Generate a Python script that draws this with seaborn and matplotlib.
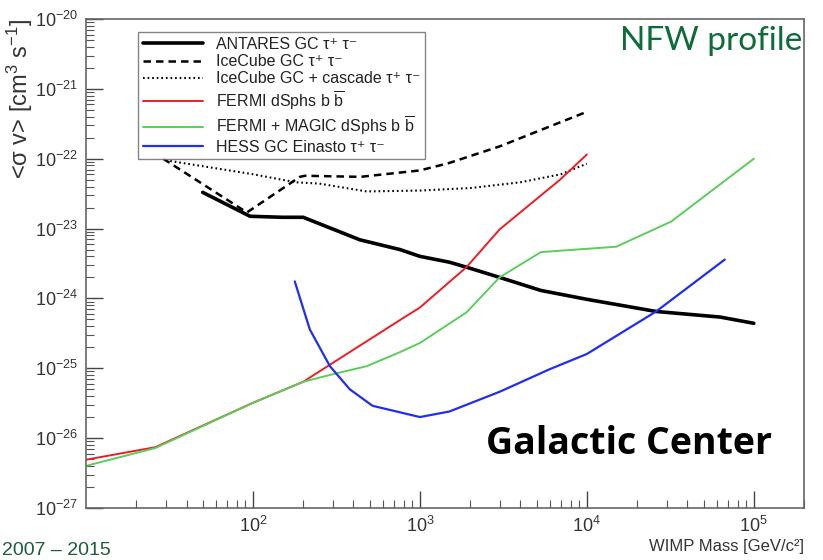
import numpy as np
import pandas as pd
import matplotlib
matplotlib.use('Agg')
import matplotlib.pyplot as plt
import seaborn as sns

# WIMP mass [GeV/c^2] and <sigma v> [cm^3 s^-1]
antares_m = [50, 96, 150, 200, 437, 760, 1000, 1500, 1900, 3000, 5300, 10000, 26000, 63000, 100000]
antares_sv = [3.3e-23, 1.5e-23, 1.45e-23, 1.45e-23, 6.9e-24, 5.0e-24, 4.0e-24, 3.3e-24, 2.8e-24, 2.0e-24, 1.3e-24, 9.7e-25, 6.5e-25, 5.4e-25, 4.4e-25]

icecube_m = [29, 92, 191, 205, 440, 1000, 1500, 3000, 6000, 10000]
icecube_sv = [1.0e-22, 1.7e-23, 5.5e-23, 5.7e-23, 5.5e-23, 6.8e-23, 8.7e-23, 1.5e-22, 2.9e-22, 4.7e-22]

cascade_m = [30, 100, 180, 250, 480, 1000, 2000, 4000, 7000, 10000]
cascade_sv = [9.5e-23, 6.0e-23, 4.6e-23, 4.4e-23, 3.4e-23, 3.5e-23, 3.8e-23, 4.6e-23, 6.0e-23, 8.5e-23]

fermi_m = [10, 26, 100, 200, 760, 1000, 1900, 3000, 6900, 10000]
fermi_sv = [4.9e-27, 7.4e-27, 3.2e-26, 6.4e-26, 4.9e-25, 7.4e-25, 2.8e-24, 9.7e-24, 5.0e-23, 1.15e-22]

magic_m = [10, 26, 100, 200, 300, 480, 760, 1000, 1900, 3000, 5300, 15000, 32000, 100000]
magic_sv = [4.0e-27, 7.2e-27, 3.2e-26, 6.4e-26, 8.2e-26, 1.07e-25, 1.7e-25, 2.3e-25, 6.3e-25, 2.0e-24, 4.6e-24, 5.5e-24, 1.26e-23, 1.0e-22]

hess_m = [178, 219, 289, 380, 520, 1000, 1500, 3000, 6000, 10000, 26000, 67000]
hess_sv = [1.75e-24, 3.6e-25, 1.07e-25, 5.0e-26, 2.9e-26, 2.0e-26, 2.4e-26, 4.6e-26, 9.7e-26, 1.6e-25, 6.5e-25, 3.6e-24]

labels = ['ANTARES GC τ⁺ τ⁻', 'IceCube GC τ⁺ τ⁻', 'IceCube GC + cascade τ⁺ τ⁻',
          'FERMI dSphs b $\\overline{\\mathrm{b}}$', 'FERMI + MAGIC dSphs b $\\overline{\\mathrm{b}}$',
          'HESS GC Einasto τ⁺ τ⁻']
colors = ['black', 'black', 'black', '#ee1c25', '#5ccc5c', '#1f2ef0']
styles = ['-', (0, (3, 2)), (0, (0.8, 1.4)), '-', '-', '-']
widths = [2.6, 1.8, 1.5, 1.4, 1.4, 1.6]

sns.set_style('white')
plt.rcParams['font.family'] = ['Liberation Sans', 'DejaVu Sans']
plt.rcParams['mathtext.fontset'] = 'custom'
plt.rcParams['mathtext.rm'] = 'Liberation Sans'
plt.rcParams['mathtext.it'] = 'Liberation Sans:italic'

fig = plt.figure(figsize=(8.23, 5.6), dpi=100)
ax = fig.add_axes([0.1045, 0.093, 0.8725, 0.873])

series = [(antares_m, antares_sv), (icecube_m, icecube_sv), (cascade_m, cascade_sv),
          (fermi_m, fermi_sv), (magic_m, magic_sv), (hess_m, hess_sv)]
for (m, sv), lab, c, ls, lw in zip(series, labels, colors, styles, widths):
    df = pd.DataFrame({'mass': m, 'sv': sv})
    sns.lineplot(data=df, x='mass', y='sv', ax=ax, color=c, linestyle=ls, linewidth=lw, label=lab)

ax.set_xscale('log')
ax.set_yscale('log')
ax.set_xlim(10, 2e5)
ax.set_ylim(1e-27, 1e-20)
ax.set_xticks([1e2, 1e3, 1e4, 1e5])
ax.set_yticks([10.0 ** k for k in range(-27, -19)])
ax.yaxis.set_minor_locator(matplotlib.ticker.LogLocator(base=10, subs=np.arange(2, 10), numticks=20))
ax.xaxis.set_minor_locator(matplotlib.ticker.LogLocator(base=10, subs=np.arange(2, 10), numticks=20))
ax.yaxis.set_minor_formatter(matplotlib.ticker.NullFormatter())
ax.xaxis.set_minor_formatter(matplotlib.ticker.NullFormatter())
ax.tick_params(which='major', direction='in', length=12, width=1, color='#444444',
               labelsize=13, labelcolor='#333333', left=True, bottom=True,
               top=False, right=False, pad=6)
ax.tick_params(which='minor', direction='in', length=6, width=0.8, color='#555555',
               left=True, bottom=True, top=False, right=False)
for sp in ax.spines.values():
    sp.set_color('#666666')
    sp.set_linewidth(1.2)

ax.set_ylabel('<σ v> [cm$^3$ s$^{-1}$]', fontsize=17, color='#333333', loc='top', labelpad=0)
ax.set_xlabel('WIMP Mass [GeV/c²]', fontsize=12, color='#333333', loc='right', labelpad=2)

leg = ax.legend(loc='upper left', bbox_to_anchor=(0.061, 0.99), fontsize=11.5, frameon=True,
                fancybox=False, edgecolor='#666666', handlelength=3.8, labelspacing=0.15,
                borderpad=0.3, handletextpad=0.8)
leg.get_frame().set_linewidth(1.0)
for t in leg.get_texts():
    t.set_color('#222222')

ax.text(0.998, 0.985, 'NFW profile', transform=ax.transAxes, ha='right', va='top',
        fontsize=24, color='#0e6b3a', family=['Lato', 'DejaVu Sans'])
ax.text(0.955, 0.13, 'Galactic Center', transform=ax.transAxes, ha='right', va='center',
        fontsize=27, fontweight='bold', color='black', family=['Open Sans', 'DejaVu Sans'])
fig.text(0.003, 0.002, '2007 – 2015', ha='left', va='bottom', fontsize=14, color='#1d5c3a')

fig.savefig('out.png', dpi=100)
